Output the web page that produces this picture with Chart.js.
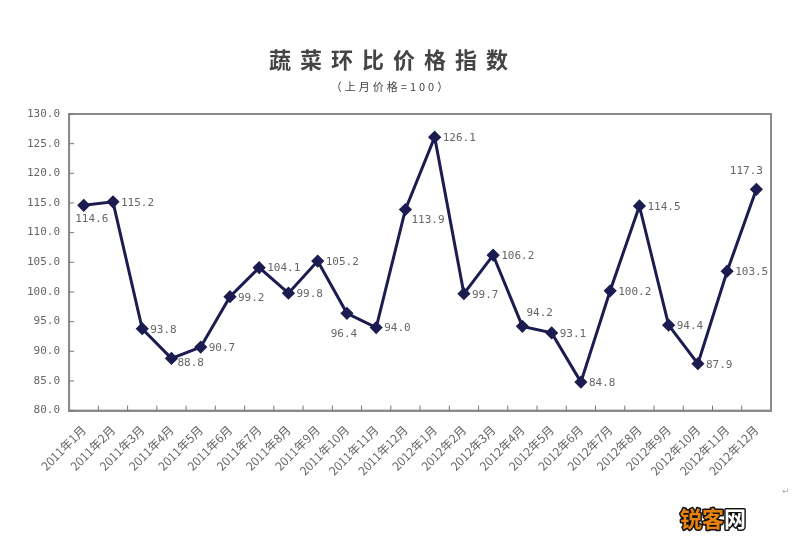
<!DOCTYPE html>
<html>
<head>
<meta charset="utf-8">
<script src="https://cdn.jsdelivr.net/npm/chart.js@4.4.0/dist/chart.umd.min.js"></script>
<style>
  html, body { margin: 0; padding: 0; background: #fff; }
  #wrap { width: 800px; height: 550px; }
</style>
</head>
<body>
<div id="wrap"><canvas id="vegChart"></canvas></div>
<script>
// months Jan 2011 - Dec 2012
const months = [
  '2011年1月', '2011年2月', '2011年3月', '2011年4月', '2011年5月', '2011年6月',
  '2011年7月', '2011年8月', '2011年9月', '2011年10月', '2011年11月', '2011年12月',
  '2012年1月', '2012年2月', '2012年3月', '2012年4月', '2012年5月', '2012年6月',
  '2012年7月', '2012年8月', '2012年9月', '2012年10月', '2012年11月', '2012年12月'
];
const priceIndex = [
  114.6, 115.2, 93.8, 88.8, 90.7, 99.2, 104.1, 99.8, 105.2, 96.4, 94.0, 113.9,
  126.1, 99.7, 106.2, 94.2, 93.1, 84.8, 100.2, 114.5, 94.4, 87.9, 103.5, 117.3
];
const yMin = 80;
const yMax = 130;
const yStep = 5;

const titleText = '蔬菜环比价格指数';
const subtitleText = '（上月价格=100）';

// where each value label sits relative to its point
const labelSide = [
  'below', 'right', 'right', 'rightLow', 'right', 'right', 'right', 'right', 'right', 'belowLeft', 'right', 'belowRight',
  'right', 'right', 'right', 'aboveRight', 'right', 'right', 'right', 'right', 'right', 'right', 'right', 'above'
];

const lineColor = '#1c1c50';
const frameColor = '#8a8a8a';
const textColor = '#666';
const monoFont = '"DejaVu Sans Mono"';

const framePlugin = {
  id: 'frame',
  afterDraw(chart) {
    const { ctx, chartArea: a, scales } = chart;
    ctx.save();
    // titles, letter-spaced like the original
    ctx.textAlign = 'center';
    ctx.textBaseline = 'middle';
    ctx.fillStyle = '#444';
    ctx.letterSpacing = '9px';
    ctx.font = 'bold 22px "Noto Sans CJK SC"';
    ctx.fillText(titleText, 393, 60);
    ctx.letterSpacing = '3px';
    ctx.font = '11px "Noto Sans CJK SC"';
    ctx.fillText(subtitleText, 391, 87);
    ctx.letterSpacing = '0px';

    ctx.strokeStyle = frameColor;
    ctx.lineWidth = 2;
    ctx.strokeRect(a.left, a.top, a.right - a.left, a.bottom - a.top);
    // inward tick marks
    ctx.lineWidth = 1;
    ctx.strokeStyle = '#777';
    ctx.beginPath();
    scales.y.ticks.forEach((t, i) => {
      const y = scales.y.getPixelForTick(i);
      ctx.moveTo(a.left, y);
      ctx.lineTo(a.left + 5, y);
    });
    const half = (scales.x.getPixelForValue(1) - scales.x.getPixelForValue(0)) / 2;
    for (let i = 0; i < months.length - 1; i++) {
      const x = scales.x.getPixelForValue(i) + half;
      ctx.moveTo(x, a.bottom);
      ctx.lineTo(x, a.bottom - 5);
    }
    ctx.stroke();

    // watermark
    ctx.textAlign = 'left';
    ctx.font = 'bold 22px "Noto Sans CJK SC"';
    ctx.lineJoin = 'round';
    ctx.lineWidth = 3;
    ctx.strokeStyle = '#111';
    ctx.strokeText('锐客', 680, 519);
    ctx.fillStyle = '#e8820e';
    ctx.fillText('锐客', 680, 519);
    ctx.strokeText('网', 724, 519);
    ctx.fillStyle = '#fff';
    ctx.fillText('网', 724, 519);
    ctx.font = '9px "DejaVu Sans"';
    ctx.fillStyle = '#aaa';
    ctx.fillText('↵', 782, 492);
    ctx.restore();
  }
};

const valueLabels = {
  id: 'valueLabels',
  afterDatasetsDraw(chart) {
    const { ctx } = chart;
    const meta = chart.getDatasetMeta(0);
    ctx.save();
    ctx.font = '11px ' + monoFont;
    ctx.fillStyle = textColor;
    ctx.textBaseline = 'middle';
    meta.data.forEach((pt, i) => {
      const txt = priceIndex[i].toFixed(1);
      let x = pt.x, y = pt.y;
      switch (labelSide[i]) {
        case 'below': ctx.textAlign = 'center'; x += 8; y += 14; break;
        case 'belowLeft': ctx.textAlign = 'center'; x -= 3; y += 21; break;
        case 'belowRight': ctx.textAlign = 'left'; x += 6; y += 11; break;
        case 'aboveRight': ctx.textAlign = 'left'; x += 4; y -= 13; break;
        case 'above': ctx.textAlign = 'center'; x -= 10; y -= 18; break;
        case 'rightLow': ctx.textAlign = 'left'; x += 6; y += 5; break;
        default: ctx.textAlign = 'left'; x += 8; y += 1;
      }
      ctx.fillText(txt, x, y);
    });
    ctx.restore();
  }
};

new Chart(document.getElementById('vegChart'), {
  type: 'line',
  data: {
    labels: months,
    datasets: [{
      data: priceIndex,
      borderColor: lineColor,
      backgroundColor: lineColor,
      borderWidth: 3,
      pointStyle: 'rectRot',
      pointRadius: 4.5,
      pointBackgroundColor: lineColor,
      pointBorderColor: lineColor,
      tension: 0
    }]
  },
  options: {
    responsive: true,
    maintainAspectRatio: false,
    animation: false,
    devicePixelRatio: 1,
    layout: { padding: { left: 18, right: 29, top: 114, bottom: 60 } },
    plugins: {
      legend: { display: false },
      tooltip: { enabled: false }
    },
    scales: {
      x: {
        offset: true,
        grid: { display: false, drawTicks: false },
        border: { color: frameColor, width: 2 },
        ticks: {
          autoSkip: false,
          minRotation: 45,
          maxRotation: 45,
          padding: 12,
          color: textColor,
          font: { family: '"Noto Sans CJK SC"', size: 12 }
        }
      },
      y: {
        min: yMin,
        max: yMax,
        grid: { display: false, drawTicks: false },
        border: { color: frameColor, width: 2 },
        ticks: {
          stepSize: yStep,
          padding: 9,
          color: textColor,
          font: { family: monoFont, size: 11 },
          callback: v => v.toFixed(1)
        }
      }
    }
  },
  plugins: [framePlugin, valueLabels]
});
</script>
</body>
</html>
